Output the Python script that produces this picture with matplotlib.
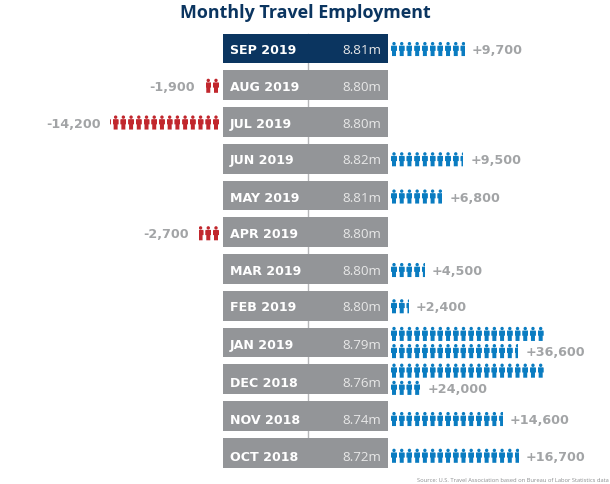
import matplotlib
matplotlib.use("Agg")
import matplotlib.pyplot as plt
from matplotlib.patches import Rectangle, Circle, Polygon

months = ["SEP 2019", "AUG 2019", "JUL 2019", "JUN 2019", "MAY 2019", "APR 2019",
          "MAR 2019", "FEB 2019", "JAN 2019", "DEC 2018", "NOV 2018", "OCT 2018"]
employment = ["8.81m", "8.80m", "8.80m", "8.82m", "8.81m", "8.80m",
              "8.80m", "8.80m", "8.79m", "8.76m", "8.74m", "8.72m"]
changes = [9700, -1900, -14200, 9500, 6800, -2700, 4500, 2400, 36600, 24000, 14600, 16700]

# the text and icons drift down a little against the bars in the original
row_nudge = [0.5, 0.5, 0.5, 0.5, 1, 1, 1, 0.5, 1.7, 2.3, 3, 3]

NAVY = "#0b3560"
GREY = "#939598"
BLUE = "#0a7cc1"
RED = "#c1272d"
TEXT_GREY = "#a2a4a6"

ICON_PITCH = 7.72
ROW_PITCH = 36.75
BAR_TOP = 34.7
BAR_H = 29.7
PER_ROW = 20
ICON_W = 6.0
BASELINE = 4.0


def draw_person(ax, x, y, h, color, frac=1.0, flip=False):
    """One person icon, x is the left edge, y the vertical centre. frac cuts it short."""
    w = ICON_W
    top = y - h / 2
    parts = [
        Circle((x + w / 2, top + 1.6), 1.7),
        Polygon([(x + 0.4, top + 3.6), (x + w - 0.4, top + 3.6), (x + w, top + 4.4), (x + w, top + 8.8),
                 (x + w - 1.0, top + 8.8), (x + w - 1.0, top + h),
                 (x + 1.0, top + h), (x + 1.0, top + 8.8), (x, top + 8.8), (x, top + 4.4)]),
    ]
    if flip:
        clip = Rectangle((x + w * (1 - frac), top - 1), w * frac, h + 2, transform=ax.transData)
    else:
        clip = Rectangle((x, top - 1), w * frac, h + 2, transform=ax.transData)
    for p in parts:
        p.set_facecolor(color)
        p.set_edgecolor("none")
        ax.add_patch(p)
        p.set_clip_path(clip)


fig = plt.figure(figsize=(6.1, 4.85), dpi=100)
ax = fig.add_axes([0, 0, 1, 1])
ax.set_xlim(0, 610)
ax.set_ylim(485, 0)
ax.axis("off")

ax.text(305, 12.5, "Monthly Travel Employment", color=NAVY, fontsize=12.9, fontweight="bold",
        family=["Open Sans", "DejaVu Sans"], ha="center", va="center")

# connector behind the bars
ax.plot([307.7, 307.7], [BAR_TOP, BAR_TOP + ROW_PITCH * 11], color="#b5b6b8", lw=1, zorder=1)

for i, (month, emp, change) in enumerate(zip(months, employment, changes)):
    y_top = BAR_TOP + i * ROW_PITCH
    y = y_top + BAR_H / 2
    yt = y + row_nudge[i]
    color = NAVY if i == 0 else GREY
    ax.add_patch(Rectangle((223, y_top), 165, BAR_H, facecolor=color, edgecolor="none", zorder=2))
    ax.text(229.5, yt + BASELINE, month, color="white", fontsize=9.1, fontweight="bold",
            family="DejaVu Sans", ha="left", va="baseline", zorder=3)
    ax.text(381, yt + BASELINE, emp, color="#e8e8e8", fontsize=9.6, family="Open Sans",
            ha="right", va="baseline", zorder=3)

    n = abs(change) / 1000
    if change > 0:
        rows = 2 if n > PER_ROW else 1
        last_end = 391
        label_y = yt
        for r in range(rows):
            count = min(n, PER_ROW) if r == 0 else n - PER_ROW
            icon_y = yt if rows == 1 else y + (-8.6 if r == 0 else 8.6)
            k = 0
            while k < count:
                draw_person(ax, 391 + k * ICON_PITCH, icon_y, 14, BLUE, min(1.0, count - k))
                k += 1
            last_end = 391 + count * ICON_PITCH
            label_y = icon_y
        ax.text(last_end + 6, label_y + BASELINE, f"+{change:,}", color=TEXT_GREY, fontsize=9.2,
                fontweight="bold", family="DejaVu Sans", ha="left", va="baseline")
    else:
        k = 0
        while k < n:
            draw_person(ax, 219 - ICON_W - k * ICON_PITCH, yt, 14, RED, min(1.0, n - k), flip=True)
            k += 1
        ax.text(219 - n * ICON_PITCH - 9, yt + BASELINE, f"-{abs(change):,}", color=TEXT_GREY, fontsize=9.2,
                fontweight="bold", family="DejaVu Sans", ha="right", va="baseline")

ax.text(609, 481, "Source: U.S. Travel Association based on Bureau of Labor Statistics data",
        color="#8a8c8e", fontsize=4.15, family="Open Sans", ha="right", va="center")

fig.savefig("out.png", dpi=100)
